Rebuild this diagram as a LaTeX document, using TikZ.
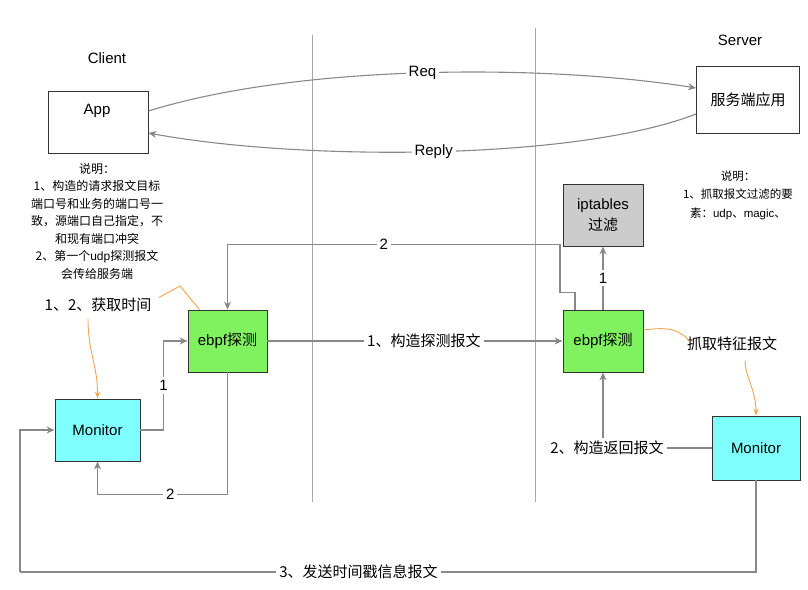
\documentclass[tikz,border=0pt]{standalone}
\usepackage{fontspec}
\setmainfont{Liberation Sans}
\newfontfamily\cjk{Noto Sans CJK SC}
\usetikzlibrary{positioning}
\usetikzlibrary{arrows.meta}

\definecolor{boxgreen}{RGB}{128,242,96}
\definecolor{boxcyan}{RGB}{128,255,255}
\definecolor{boxgray}{RGB}{204,204,204}
\definecolor{linegray}{RGB}{136,136,136}
\definecolor{hintorange}{RGB}{240,165,80}

\begin{document}
\begin{tikzpicture}[x=1pt,y=-1pt,
 box/.style={draw=black!80,line width=0.9pt,inner sep=0pt,align=center,font=\fontsize{15}{21}\selectfont},
 conn/.style={draw=linegray,line width=1.1pt,-{Stealth[length=8pt,width=7pt]}},
 wire/.style={draw=linegray,line width=1.1pt},
 lbl/.style={fill=white,inner sep=3pt,font=\fontsize{15}{18}\selectfont},
 hint/.style={draw=hintorange,line width=0.9pt},
 note/.style={align=center,font=\fontsize{12}{17.5}\selectfont\cjk},
 divider/.style={draw=black!35,line width=0.8pt}]
 \useasboundingbox (0,0) rectangle (808,589);
 % dividers
 \draw[divider](312,35)--(312,502);
 \draw[divider](535,28)--(535,502);
 % titles
 \node[font=\fontsize{15}{18}\selectfont] (client) at (107,58) {Client};
 \node[font=\fontsize{15}{18}\selectfont] (server) at (740,40) {Server};
 % boxes
 \node[box,fill=white,minimum width=100pt,minimum height=62pt] (app) at (98,122) {};
 \node[font=\fontsize{15}{18}\selectfont] (apptxt) at (97,111) {App};
 \node[box,fill=white,minimum width=103pt,minimum height=67pt] (srv) at (748,100) {\cjk 服务端应用};
 \node[box,fill=boxgreen,minimum width=79pt,minimum height=62pt] (ebpfL) at (227.5,341) {ebpf{\cjk 探测}};
 \node[box,fill=boxgreen,minimum width=80pt,minimum height=62pt] (ebpfR) at (603,341) {ebpf{\cjk 探测}};
 \node[box,fill=boxgray,minimum width=80pt,minimum height=62pt] (ipt) at (603,215) {iptables\\\cjk 过滤};
 \node[box,fill=boxcyan,minimum width=85pt,minimum height=62pt] (monL) at (97.5,430) {Monitor};
 \node[box,fill=boxcyan,minimum width=88pt,minimum height=64pt] (monR) at (756,448) {Monitor};
 % notes
 \node[note] (noteL) at (97,221) {说明：\\1、构造的请求报文目标\\端口号和业务的端口号一\\致，源端口自己指定，不\\和现有端口冲突\\2、第一个{\rmfamily udp}探测报文\\会传给服务端};
 \node[note,font=\fontsize{11.5}{18.5}\selectfont\cjk] (noteR) at (738,195) {说明：\\1、抓取报文过滤的要\\素：{\rmfamily udp}、{\rmfamily magic}、};
 \node[font=\fontsize{15}{18}\selectfont\cjk] (gettime) at (98,305) {1、2、获取时间};
 \node[font=\fontsize{15}{18}\selectfont\cjk] (grab) at (732,344) {抓取特征报文};
 % req / reply
 \draw[conn]([yshift=11pt]app.east) .. controls (300,64) and (545,64) .. node[lbl]{Req} ([yshift=12pt]srv.west);
 \draw[conn]([yshift=-14pt]srv.west) .. controls (575,161) and (300,161) .. node[lbl]{Reply} ([yshift=-11pt]app.east);
 % probe path
 \draw[conn](ebpfL.east) -- node[lbl,pos=0.53]{\cjk 1、构造探测报文} (ebpfR.west);
 \draw[conn](monL.east) -- ++(23,0) |- node[lbl,pos=0.25]{1} (ebpfL.west);
 \draw[conn](ebpfL.south) -- ++(0,122) -| node[lbl,pos=0.22]{2} (monL.south);
 \draw[conn]([xshift=-28pt]ebpfR.north) -- ++(0,-17) -- ++(-15,0) -- ++(0,-48) -| node[lbl,pos=0.265]{2} (ebpfL.north);
 \draw[conn](ebpfR.north) -- node[lbl]{1} (ipt.south);
 \draw[conn](monR.west) -| node[lbl,pos=0.5,xshift=4pt]{\cjk 2、构造返回报文} (ebpfR.south);
 \coordinate (loopL) at (20,572);
 \draw[wire](monR.south) |- node[lbl,pos=0.77]{\cjk 3、发送时间戳信息报文} (loopL);
 \draw[conn](loopL) |- (monL.west);
 % orange hints
 \draw[hint]([xshift=4pt,yshift=-3pt]gettime.north east) -- (180,286) -- ([xshift=12pt]ebpfL.north west);
 \draw[hint,-{Stealth[length=7pt,width=5pt]}]([xshift=-10pt,yshift=-3pt]gettime.south) .. controls +(0,35) and +(0,-35) .. (monL.north);
 \draw[hint]([yshift=11pt]ebpfR.east) .. controls (662,328) and (675,326) .. ([xshift=6pt,yshift=-7pt]grab.north west);
 \draw[hint,-{Stealth[length=7pt,width=5pt]}]([xshift=13pt,yshift=-6pt]grab.south) .. controls +(0,15) and +(0,-25) .. (monR.north);
\end{tikzpicture}
\end{document}
